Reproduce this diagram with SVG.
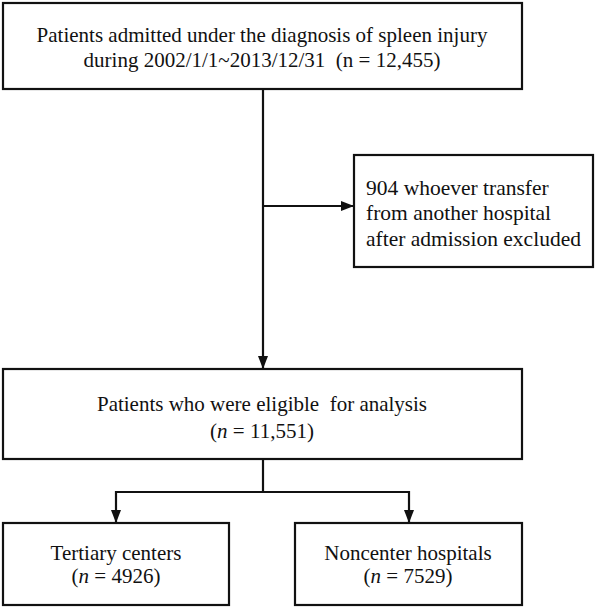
<svg xmlns="http://www.w3.org/2000/svg" width="596" height="609" viewBox="0 0 596 609">
<style>
.box{fill:#fff;stroke:#111;stroke-width:2.2}
.ln{fill:none;stroke:#111;stroke-width:2.2}
text{font-family:'Liberation Serif','DejaVu Serif',serif;font-size:21px;fill:#111}
.c{text-anchor:middle}
.i{font-style:italic}
.x{font-size:21.5px}
</style>
<defs>
<marker id="ah" markerUnits="userSpaceOnUse" markerWidth="14" markerHeight="12" refX="13" refY="5" orient="auto">
<path d="M0,0 L13,5 L0,10 Z" fill="#111"/>
</marker>
</defs>
<rect width="596" height="609" fill="#fff"/>
<g id="connectors">
<line class="ln" x1="263" y1="89" x2="263" y2="369" marker-end="url(#ah)"/>
<line class="ln" x1="263" y1="206" x2="354" y2="206" marker-end="url(#ah)"/>
<line class="ln" x1="263" y1="459" x2="263" y2="492"/>
<line class="ln" x1="115" y1="492" x2="410" y2="492"/>
<line class="ln" x1="116" y1="491" x2="116" y2="523" marker-end="url(#ah)"/>
<line class="ln" x1="409" y1="491" x2="409" y2="523" marker-end="url(#ah)"/>
</g>
<g id="node-admitted">
<rect class="box" x="3" y="3" width="519" height="86"/>
<text class="c" x="262" y="42">Patients admitted under the diagnosis of spleen injury</text>
<text class="c" x="262" y="67" xml:space="preserve">during 2002/1/1~2013/12/31  (n = 12,455)</text>
</g>
<g id="node-excluded">
<rect class="box" x="354" y="155" width="239" height="112"/>
<text class="x" x="366" y="195">904 whoever transfer</text>
<text class="x" x="366" y="220">from another hospital</text>
<text class="x" x="366" y="246">after admission excluded</text>
</g>
<g id="node-eligible">
<rect class="box" x="3" y="369" width="519" height="90"/>
<text class="c" x="262" y="411" xml:space="preserve">Patients who were eligible  for analysis</text>
<text class="c" x="262" y="438">(<tspan class="i">n</tspan> = 11,551)</text>
</g>
<g id="node-tertiary">
<rect class="box" x="3" y="523" width="226" height="82"/>
<text class="c" x="116" y="560">Tertiary centers</text>
<text class="c" x="116" y="583">(<tspan class="i">n</tspan> = 4926)</text>
</g>
<g id="node-noncenter">
<rect class="box" x="295" y="523" width="227" height="82"/>
<text class="c" x="408" y="560">Noncenter hospitals</text>
<text class="c" x="408" y="583">(<tspan class="i">n</tspan> = 7529)</text>
</g>
</svg>
